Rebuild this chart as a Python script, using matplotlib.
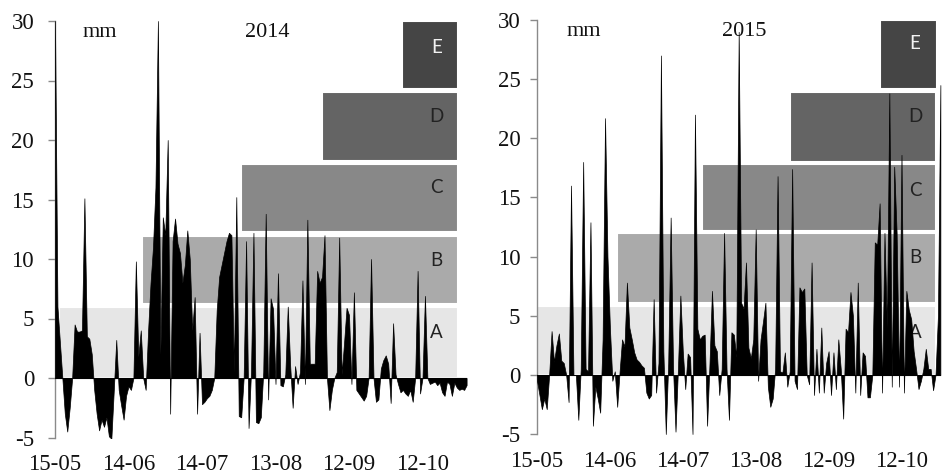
import matplotlib
matplotlib.use("Agg")
import matplotlib.pyplot as plt
from matplotlib.patches import Rectangle
import numpy as np

plt.rcParams['axes.unicode_minus'] = False

# ---------------- data ----------------
tick_days = [0, 30, 60, 90, 120, 150]
tick_labels = ['15-05', '14-06', '14-07', '13-08', '12-09', '12-10']
y_ticks = [-5, 0, 5, 10, 15, 20, 25, 30]

balance_2014 = [
    30, 6, 3, 0, -3, -4.5, -2.5, 0, 4.5, 3.9,
    3.9, 4, 15.1, 3.5, 3.3, 2, -1, -3, -4.4, -3.5,
    -4.1, -3.3, -4.9, -5.1, -1, 3.2, -1, -2.3, -3.5, -1.5,
    -0.7, -1, 0, 9.8, 1.8, 4, 0, -1, 4, 8,
    11, 16, 30, 2, 13.5, 12, 20, -3, 11.5, 13.4,
    11.3, 10.5, 8, 9.5, 12.4, 10, 4, 6.8, -3, 3.8,
    -2.2, -2, -1.7, -1.5, -1, 0, 5.7, 8.5, 9.5, 10.5,
    11.5, 12.2, 12, 0.5, 15.2, -3.2, -3.3, 0, 11.5, -4.2,
    0.5, 12.2, -3.7, -3.8, -3.3, 0.5, 13.8, -1.8, 6.7, 5.8,
    -0.5, 8.8, -0.6, -0.7, 0.3, 6, 1, -2.5, 1, -0.5,
    0.5, 8.2, -0.5, 13.3, 1.2, 1.2, 1.2, 9, 8, 8.5,
    12, 0, -2.7, -1, 0, 0.5, 11.8, 0.3, 3, 5.9,
    5.3, -0.5, 7.2, -1, -1.3, -1.6, -1.9, -1.5, 0, 10,
    0, -2, -1.8, 0.8, 1.5, 1.9, 1.2, -2.1, 4.6, 0.3,
    -0.5, -1.2, -1, -1.3, -1.5, -1, -2, 0, 9, -1.3,
    0, 6.9, 0, -0.5, -0.4, -0.3, -0.6, -0.4, -1.2, -1.5,
    -0.3, -0.5, -1.5, -0.4, -0.8, -1, -0.9, -1, -0.6,
]

balance_2015 = [
    -0.5, -1.7, -2.9, -2, -2.9, 0, 3.7, 1.1, 2.5, 3.5,
    1.2, 1.0, 0, -2.3, 16, 0, 0, -3.8, 0.5, 18,
    0.5, 0.3, 12.9, -4.3, -1, -2, -3.2, 3, 21.7, 10,
    4, -0.5, 0.3, -2.7, 0.3, 3, 2.4, 7.8, 4, 3,
    1.9, 1.3, 1.1, 0.8, 0.6, -1.5, -2, -1.7, 6.4, -1.5,
    1, 27, 2, -5, 1, 13.3, 0.5, -4.8, 0.5, 6.7,
    2, -1.2, 1.8, 1.5, -5, 22, 3.9, 3, 3.3, 3.4,
    -4.3, 1, 7.1, 2.5, 2, -1.7, 0.5, 12, 0.5, -3.8,
    3.6, 3.4, 1.5, 29, 6.1, 5.6, 9.5, 2.3, 1.4, 3,
    12.3, -0.5, 3, 4.5, 6.1, -1, -2.7, -2, 0.5, 16.8,
    0.3, 0.2, 1.9, -1, 0.3, 17.4, -0.5, -1.2, 7.4, 7.0,
    7.3, 0, -0.8, 9.5, -1.7, 2.2, -1.5, 4.0, -1.5, 1,
    2, -1.7, 1.9, -1.2, 3.0, 0.5, -3.7, 3.9, 3.6, 7.0,
    5, -1.5, 7.8, -1.7, 1.9, 1.6, -1.9, -1.9, 0, 11.2,
    11, 14.5, -1.5, 12, 4, 23.8, -1, 17.6, 12, -1,
    18.6, -1.5, 7.1, 5.5, 4.7, 2, 0.5, -1.2, -0.5, 0.5,
    2.2, 0.5, 0.5, -1.3, 0, 5, 24.5,
]

zone_names = ['A', 'B', 'C', 'D', 'E']
zone_colors = ['#e6e6e6', '#aaaaaa', '#888888', '#646464', '#454545']
zone_text_colors = ['#222222', '#222222', '#222222', '#222222', '#f2f2f2']

zones_2014_start = [1.5, 35.5, 76, 109, 141.6]
zones_2014_end = [164.5, 164.5, 164.5, 164.5, 164.5]
zones_2014_low = [0, 6.2, 12.3, 18.2, 24.3]
zones_2014_high = [6.0, 11.9, 18.0, 24.0, 30.0]

zones_2015_start = [0, 33, 68, 104, 141]
zones_2015_end = [164, 164, 164, 164, 164.8]
zones_2015_low = [0, 6.1, 12.2, 18.0, 24.2]
zones_2015_high = [5.8, 12.0, 17.8, 23.9, 30.0]

# ---------------- drawing ----------------
fig = plt.figure(figsize=(9.42, 4.74), dpi=100)

serif = 'Liberation Serif'


def panel(rect, values, year, starts, ends, lows, highs, xmax, label_x, label_y,
          mm_x, year_x, txt_y, ypad):
    ax = fig.add_axes(rect)
    days = np.arange(len(values))
    vals = np.array(values, dtype=float)
    for s, e, lo, hi, c in zip(starts, ends, lows, highs, zone_colors):
        ax.add_patch(Rectangle((s, lo), e - s, hi - lo, facecolor=c,
                               edgecolor='white', linewidth=1.5, zorder=1))
    for name, ly, tc in zip(zone_names, label_y, zone_text_colors):
        ax.text(label_x, ly, name, ha='center', va='center', fontsize=13.5,
                family='Lato', color=tc, zorder=2)
    ax.fill_between(days, vals, 0, color='black', linewidth=0.5, zorder=3)
    ax.plot([days[0], days[-1]], [0, 0], color='black', lw=0.8, zorder=3)
    ax.text(mm_x, txt_y, 'mm', ha='center', va='center', fontsize=16,
            family=serif, color='#111111', zorder=2)
    ax.text(year_x, txt_y, str(year), ha='center', va='center', fontsize=16,
            family=serif, color='#111111', zorder=2)
    ax.set_xlim(0, xmax)
    ax.set_ylim(-5, 30)
    ax.set_xticks(tick_days)
    ax.set_xticklabels(tick_labels, family=serif, fontsize=16.5)
    ax.set_yticks(y_ticks)
    ax.set_yticklabels([str(t) for t in y_ticks], family=serif, fontsize=16.5)
    for sp in ['top', 'right', 'bottom']:
        ax.spines[sp].set_visible(False)
    ax.spines['left'].set_color('#8a8a8a')
    ax.spines['left'].set_linewidth(1.0)
    ax.tick_params(axis='x', length=0, pad=12, labelcolor='#111111')
    ax.tick_params(axis='y', length=5, width=1.0, color='#8a8a8a',
                   pad=ypad, labelcolor='#111111')
    ax.patch.set_alpha(0)
    return ax


panel([55 / 942, 1 - 437.5 / 474, 411.6 / 942, 416.5 / 474], balance_2014, 2014,
      zones_2014_start, zones_2014_end, zones_2014_low, zones_2014_high,
      168, 155.8, [3.8, 9.9, 16.0, 22.0, 27.8], 18.4, 86.5, 29.0, 10)

panel([537 / 942, 1 - 434 / 474, 405.8 / 942, 414 / 474], balance_2015, 2015,
      zones_2015_start, zones_2015_end, zones_2015_low, zones_2015_high,
      167, 155.6, [3.6, 9.9, 15.6, 21.8, 28.0], 19.3, 85.2, 29.0, 7)

fig.savefig('out.png', dpi=100)
